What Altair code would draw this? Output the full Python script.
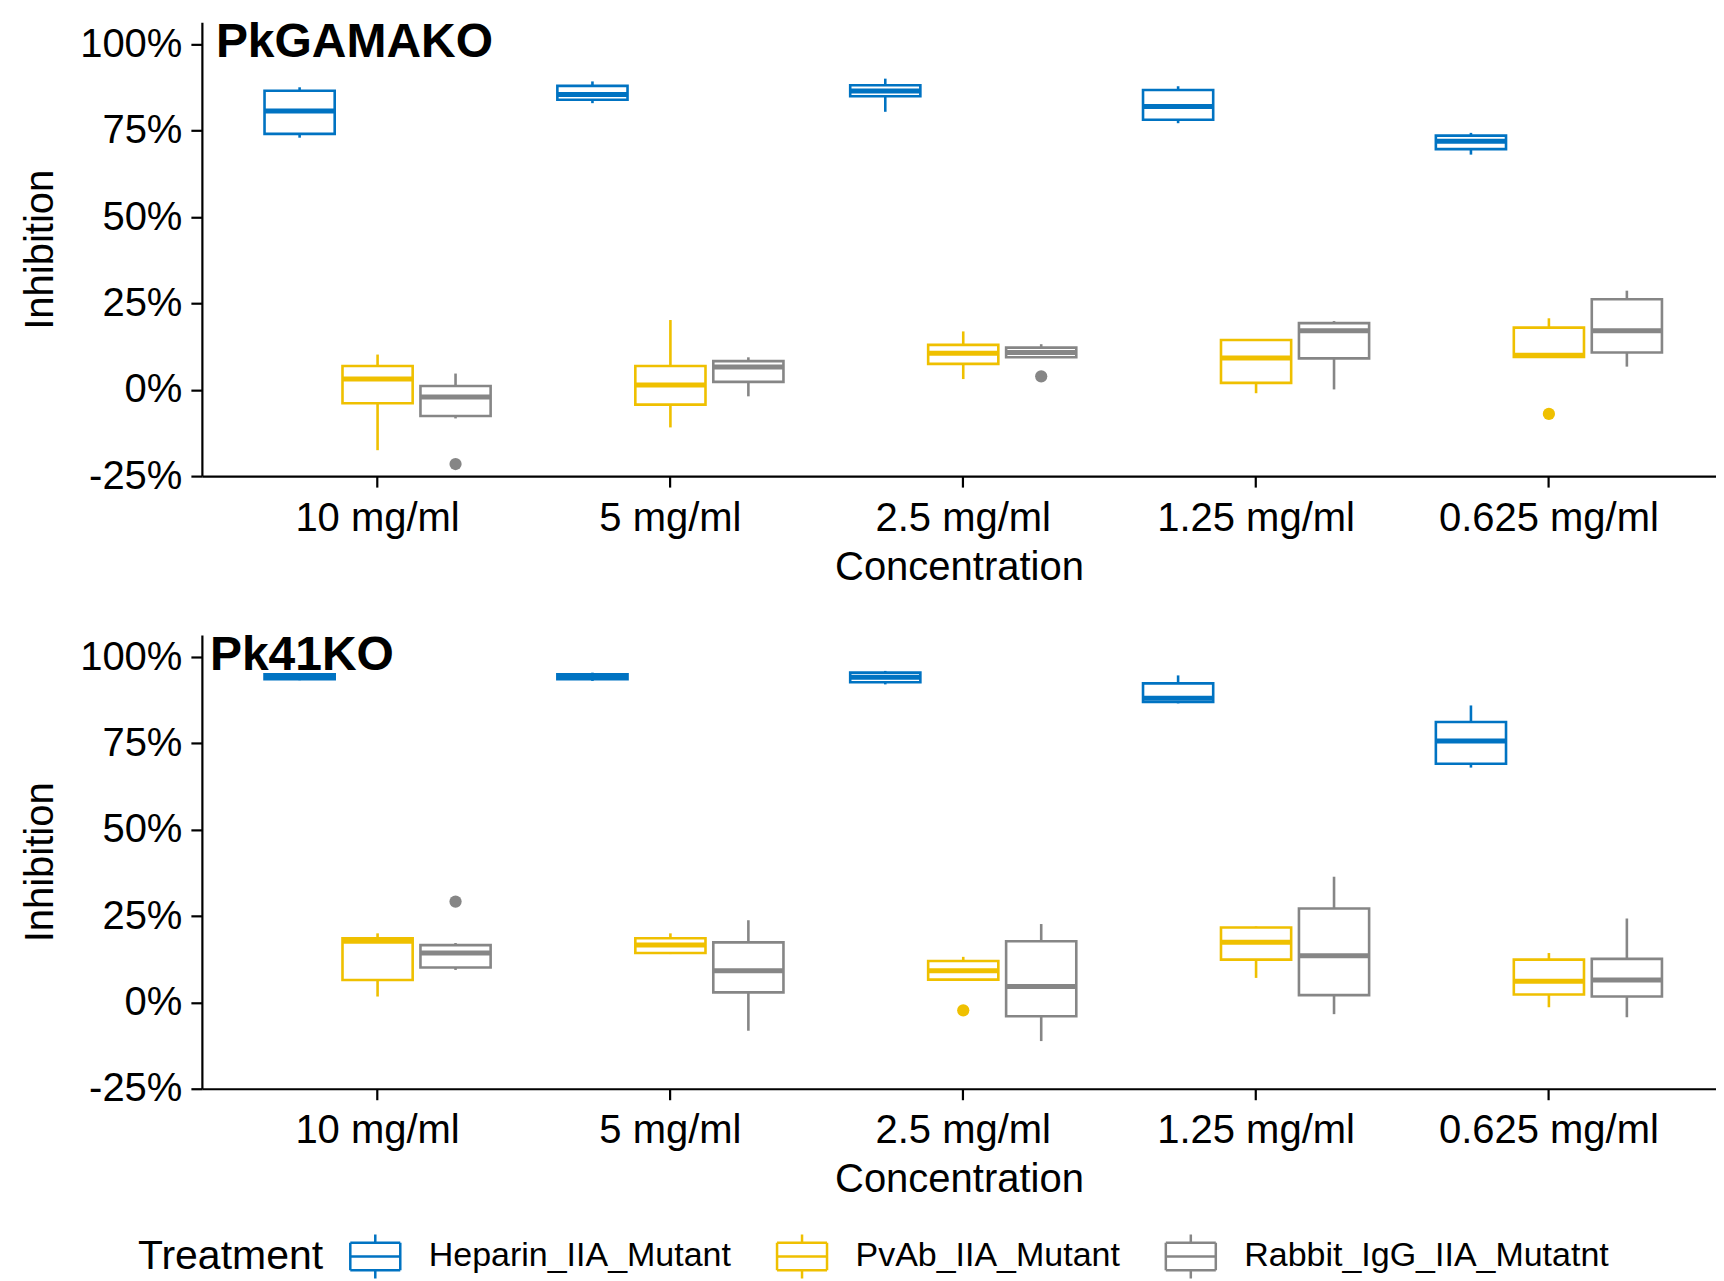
import altair as alt
import pandas as pd

concentrations = ["10 mg/ml", "5 mg/ml", "2.5 mg/ml", "1.25 mg/ml", "0.625 mg/ml"]
treatments = ["Heparin_IIA_Mutant", "PvAb_IIA_Mutant", "Rabbit_IgG_IIA_Mutatnt"]
colors = ["#0073C2", "#EFC000", "#868686"]
panels = ["PkGAMAKO", "Pk41KO"]

# Box statistics (percent), one row per treatment, one value per concentration
gama_lower = [[73.0, 83.0, 80.5, 77.2, 68.1],
              [-17.5, -10.9, 3.1, -1.0, 9.5],
              [-8.3, -1.9, 9.4, 0.1, 6.7]]
gama_q1 = [[74.1, 84.0, 85.0, 78.2, 69.7],
           [-3.9, -4.3, 7.5, 2.0, 9.5],
           [-7.6, 2.3, 9.4, 9.1, 10.8]]
gama_median = [[80.7, 85.5, 86.5, 82.0, 72.0],
               [3.1, 1.4, 10.6, 9.2, 10.0],
               [-2.1, 6.6, 10.8, 17.1, 17.1]]
gama_q3 = [[86.6, 88.0, 88.2, 86.8, 73.6],
           [6.9, 6.9, 13.0, 14.4, 18.0],
           [1.1, 8.3, 12.2, 19.3, 26.2]]
gama_upper = [[87.6, 89.3, 90.1, 87.9, 74.4],
              [10.2, 20.2, 16.9, 14.6, 20.7],
              [4.7, 9.4, 13.2, 19.9, 28.7]]

ko41_lower = [[93.3, 93.1, 92.1, 86.6, 68.0],
              [1.7, 14.0, 6.6, 7.1, -1.4],
              [9.4, -8.2, -11.2, -3.4, -4.3]]
ko41_q1 = [[93.6, 93.6, 92.7, 87.0, 69.1],
           [6.5, 14.3, 6.6, 12.4, 2.3],
           [10.1, 2.9, -4.0, 2.1, 1.7]]
ko41_median = [[94.3, 94.3, 94.2, 88.1, 75.7],
               [17.7, 16.6, 9.2, 17.4, 6.1],
               [14.3, 9.2, 4.6, 13.5, 6.5]]
ko41_q3 = [[95.0, 95.0, 95.5, 92.4, 81.2],
           [18.6, 18.6, 12.0, 21.7, 12.4],
           [16.6, 17.4, 17.7, 27.2, 12.6]]
ko41_upper = [[95.3, 95.5, 96.0, 94.7, 86.0],
              [20.0, 20.0, 13.2, 22.0, 14.3],
              [17.2, 23.8, 22.7, 36.4, 24.3]]

outlier_panel = ["PkGAMAKO", "PkGAMAKO", "PkGAMAKO", "Pk41KO", "Pk41KO"]
outlier_conc = ["10 mg/ml", "2.5 mg/ml", "0.625 mg/ml", "10 mg/ml", "2.5 mg/ml"]
outlier_treat = ["Rabbit_IgG_IIA_Mutatnt", "Rabbit_IgG_IIA_Mutatnt", "PvAb_IIA_Mutant",
                 "Rabbit_IgG_IIA_Mutatnt", "PvAb_IIA_Mutant"]
outlier_value = [-21.5, 3.9, -7.0, 29.2, -2.3]

stats = {
    "PkGAMAKO": (gama_lower, gama_q1, gama_median, gama_q3, gama_upper),
    "Pk41KO": (ko41_lower, ko41_q1, ko41_median, ko41_q3, ko41_upper),
}
label_dx = {"PkGAMAKO": 14, "Pk41KO": 8}

rows = []
for p in panels:
    lo, q1, md, q3, up = stats[p]
    for ti, t in enumerate(treatments):
        for ci, c in enumerate(concentrations):
            rows.append({"panel": p, "conc": c, "treatment": t,
                         "lower": lo[ti][ci], "q1": q1[ti][ci], "median": md[ti][ci],
                         "q3": q3[ti][ci], "upper": up[ti][ci]})
box_df = pd.DataFrame(rows)
out_df = pd.DataFrame({"panel": outlier_panel, "conc": outlier_conc,
                       "treatment": outlier_treat, "value": outlier_value})

FONT = "Liberation Sans"
color_scale = alt.Scale(domain=treatments, range=colors)
x_scale = alt.Scale(paddingInner=0, paddingOuter=0.0853, align=0.586)
off_scale = alt.Scale(paddingInner=0.1, paddingOuter=0.428)
y_scale = alt.Scale(domain=[-25, 106.4], nice=False, zero=False)

# boxplot glyph drawn only with zero-area line segments (so no fill shows)
legend_symbol = ("M-1,-0.55H1 M1,-0.55V0.55 M1,0.55H-1 M-1,0.55V-0.55 "
                 "M-1,0H1 M0,-0.55V-0.88 M0,0.55V0.88")
legend = alt.Legend(
    title="Treatment", orient="none", direction="horizontal", titleOrient="left",
    legendX=-64, legendY=1208,
    symbolType=legend_symbol, symbolSize=2500, symbolStrokeWidth=2.5,
    labelFontSize=34, titleFontSize=41,
    titleFontWeight="normal", titleColor="black", labelColor="black",
    titlePadding=25, labelOffset=27, columnPadding=40, titleBaseline="middle",
    titleFont=FONT, labelFont=FONT, labelLimit=0, titleLimit=0,
)

x_axis = alt.Axis(title="Concentration", labelAngle=0, labelFontSize=40, titleFontSize=40,
                  tickSize=11, labelPadding=11, titlePadding=9, domainWidth=2.2,
                  tickWidth=2.2, domainColor="black", tickColor="black",
                  labelColor="black", titleColor="black", titleFontWeight="normal",
                  grid=False, labelLimit=0)
y_axis = alt.Axis(title="Inhibition", values=[-25, 0, 25, 50, 75, 100],
                  labelExpr="datum.value + '%'", labelFontSize=40, titleFontSize=40,
                  tickSize=11, labelPadding=9, titlePadding=19, domainWidth=2.2,
                  tickWidth=2.2, domainColor="black", tickColor="black",
                  labelColor="black", titleColor="black", titleFontWeight="normal",
                  grid=False)


def panel_chart(p):
    bd = box_df[box_df.panel == p]
    od = out_df[out_df.panel == p]
    x = alt.X("conc:N", sort=concentrations, scale=x_scale, axis=x_axis)
    xo = alt.XOffset("treatment:N", sort=treatments, scale=off_scale)
    stroke = alt.Stroke("treatment:N", scale=color_scale, legend=legend)
    base = alt.Chart(bd).encode(x=x, xOffset=xo)
    whisker_lo = base.mark_rule(strokeWidth=2.6).encode(
        y=alt.Y("lower:Q", scale=y_scale, axis=y_axis), y2="q1:Q", stroke=stroke)
    whisker_hi = base.mark_rule(strokeWidth=2.6).encode(
        y=alt.Y("q3:Q", scale=y_scale, axis=y_axis), y2="upper:Q", stroke=stroke)
    box = base.mark_bar(filled=False, strokeWidth=2.6).encode(
        y=alt.Y("q1:Q", scale=y_scale, axis=y_axis), y2="q3:Q", stroke=stroke)
    med = base.mark_tick(thickness=5, size=70, opacity=1).encode(
        y=alt.Y("median:Q", scale=y_scale, axis=y_axis),
        color=alt.Color("treatment:N", scale=color_scale, legend=None))
    outl = alt.Chart(od).mark_circle(size=150, opacity=1).encode(
        x=x, xOffset=xo, y=alt.Y("value:Q", scale=y_scale, axis=y_axis),
        color=alt.Color("treatment:N", scale=color_scale, legend=None))
    label = alt.Chart(pd.DataFrame({"label": [p]})).mark_text(
        align="left", baseline="alphabetic", fontSize=48, fontWeight="bold",
        color="black", font=FONT, dx=label_dx[p], dy=35).encode(
        text="label:N", x=alt.value(0), y=alt.value(0))
    return alt.layer(whisker_lo, whisker_hi, box, med, outl, label).properties(
        width=1515, height=454)


chart = alt.vconcat(panel_chart("PkGAMAKO"), panel_chart("Pk41KO"),
                    spacing=45).resolve_scale(x="independent").properties(
    padding={"left": 12, "top": 11, "right": 0, "bottom": 0}
).configure(font=FONT).configure_view(stroke=None)

chart.save("out.html", embed_options={"renderer": "svg", "actions": False})
